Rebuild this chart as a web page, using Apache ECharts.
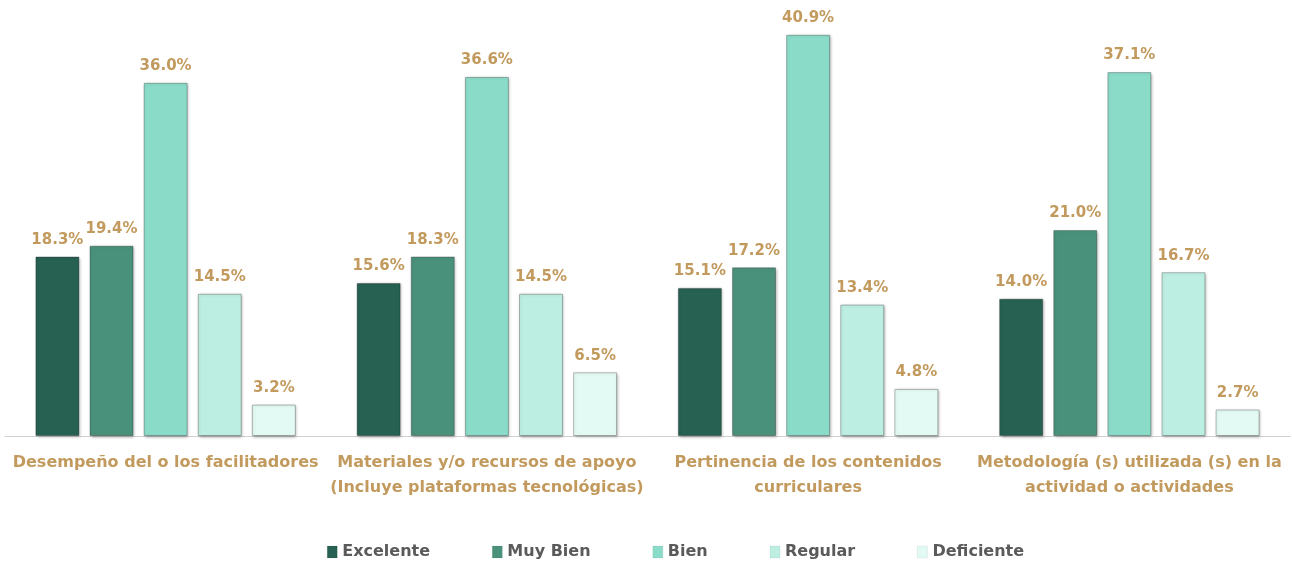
<!DOCTYPE html>
<html>
<head>
<meta charset="utf-8">
<script src="https://cdn.jsdelivr.net/npm/echarts@6/dist/echarts.min.js"></script>
<style>
html, body {margin: 0; padding: 0; background: #fff;}
#chart {width: 1292px; height: 561px;}
</style>
</head>
<body>
<div id="chart"></div>
<script>
var categories = [
    'Desempeño del o los facilitadores',
    'Materiales y/o recursos de apoyo\n(Incluye plataformas tecnológicas)',
    'Pertinencia de los contenidos\ncurriculares',
    'Metodología (s) utilizada (s) en la\nactividad o actividades'
];
var seriesNames = ['Excelente', 'Muy Bien', 'Bien', 'Regular', 'Deficiente'];
var excelente = [18.3, 15.6, 15.1, 14.0];
var muyBien = [19.4, 18.3, 17.2, 21.0];
var bien = [36.0, 36.6, 40.9, 37.1];
var regular = [14.5, 14.5, 13.4, 16.7];
var deficiente = [3.2, 6.5, 4.8, 2.7];

var colors = ['#266152', '#4a917b', '#8adcc8', '#bdeee2', '#e3f9f3'];
var values = [excelente, muyBien, bien, regular, deficiente];
var gold = '#c29a5e';
var font = 'DejaVu Sans';

var series = seriesNames.map(function (name, i) {
    return {
        name: name,
        type: 'bar',
        data: values[i],
        barWidth: 44,
        barGap: '23%',
        itemStyle: {
            color: colors[i],
            borderColor: 'rgba(0,0,0,0.25)',
            borderWidth: 1,
            shadowColor: 'rgba(0,0,0,0.35)',
            shadowBlur: 3,
            shadowOffsetX: 1,
            shadowOffsetY: 1
        },
        label: {
            show: true,
            position: 'top',
            distance: 9,
            color: gold,
            fontFamily: font,
            fontWeight: 'bold',
            fontSize: 15,
            formatter: function (p) { return p.value.toFixed(1) + '%'; }
        }
    };
});

var myChart = echarts.init(document.getElementById('chart'));
var option = {
    animation: false,
    grid: {left: 5, right: 2, top: 24, bottom: 125},
    legend: {
        data: seriesNames,
        bottom: -4,
        left: 322,
        itemWidth: 10,
        itemHeight: 12,
        itemGap: 62,
        icon: 'rect',
        itemStyle: {borderColor: 'rgba(0,0,0,0.12)', borderWidth: 0.5, shadowBlur: 0, shadowOffsetX: 0, shadowOffsetY: 0},
        textStyle: {color: '#5a5a5a', fontFamily: font, fontWeight: 'bold', fontSize: 16}
    },
    xAxis: {
        type: 'category',
        data: categories,
        axisLine: {lineStyle: {color: '#d0d0d0', width: 1}},
        axisTick: {show: false},
        axisLabel: {
            interval: 0,
            margin: 14,
            color: gold,
            fontFamily: font,
            fontWeight: 'bold',
            fontSize: 16,
            lineHeight: 25
        }
    },
    yAxis: {
        type: 'value',
        min: 0,
        max: 42,
        show: false,
        splitLine: {show: false}
    },
    series: series
};
myChart.setOption(option);
</script>
</body>
</html>
